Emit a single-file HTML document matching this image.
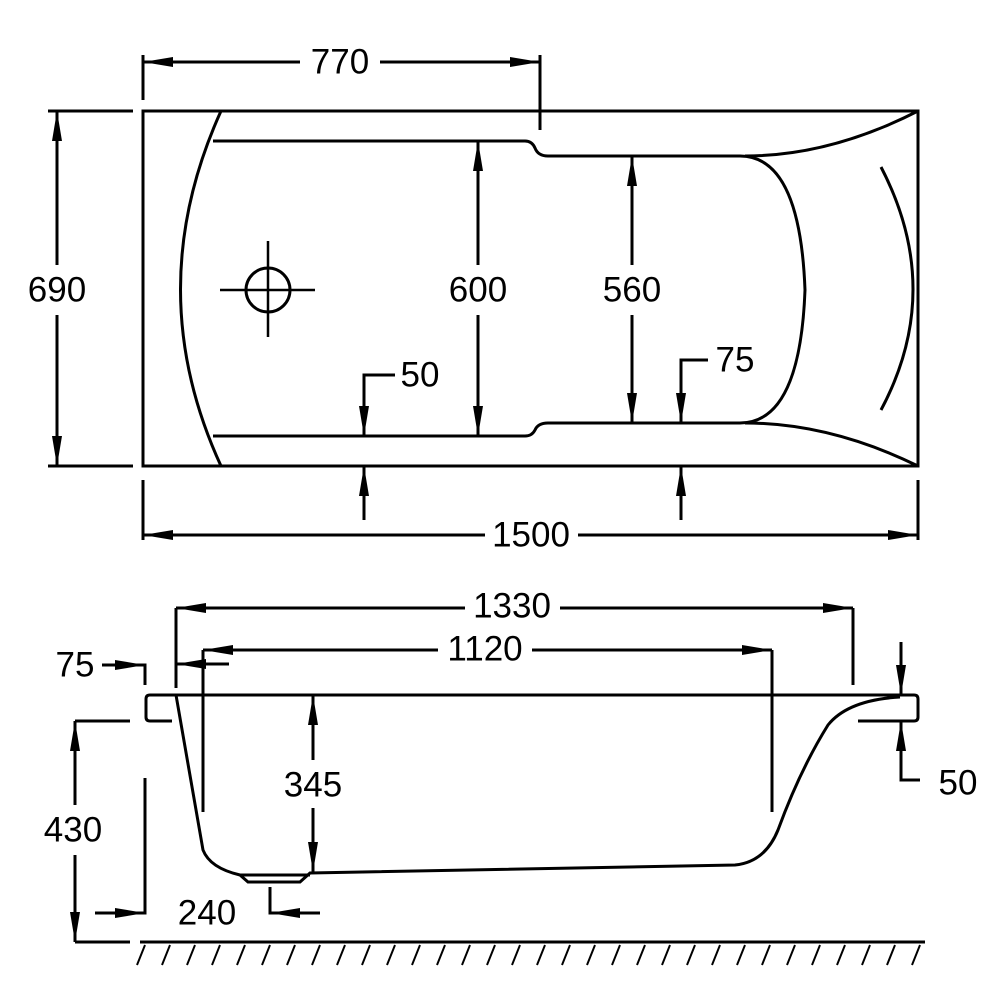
<!DOCTYPE html>
<html><head><style>body{margin:0;background:#fff}svg{display:block}text{font-family:"Liberation Sans",sans-serif;font-size:35px;fill:#000;text-anchor:middle;dominant-baseline:central}</style></head>
<body>
<svg width="1005" height="1005" viewBox="0 0 1005 1005" xmlns="http://www.w3.org/2000/svg">
<defs>
<marker id="a" markerWidth="30" markerHeight="12" refX="30" refY="6" orient="auto" markerUnits="userSpaceOnUse"><path d="M0,1 L30,6 L0,11 Z" fill="#000"/></marker>
</defs>
<g stroke="#000" stroke-width="3" fill="none">
<rect x="143" y="111" width="775" height="355"/>
<path d="M221,111 Q140,290 221,466"/>
<path d="M213,141 H525 Q532,141 535,148 Q538,156 548,156 H740 Q800,156 805,290 Q800,423 740,423 H548 Q538,423 535,430 Q532,436 525,436 H213"/>
<path d="M745,156 Q830,156 918,111"/>
<path d="M745,423 Q830,423 918,466"/>
<path d="M881,167 Q945,290 881,410"/>
<circle cx="268" cy="290" r="22"/>
<path d="M220,290 H315 M268,241 V337" stroke-width="2.5"/>
<path d="M143,55 V100 M540,55 V130"/>
<path d="M300,62 H143" marker-end="url(#a)"/>
<path d="M380,62 H540" marker-end="url(#a)"/>
<path d="M48,111 H133 M48,466 H133"/>
<path d="M57,265 V111" marker-end="url(#a)"/>
<path d="M57,315 V466" marker-end="url(#a)"/>
<path d="M478,265 V141" marker-end="url(#a)"/>
<path d="M478,315 V436" marker-end="url(#a)"/>
<path d="M632,265 V156" marker-end="url(#a)"/>
<path d="M632,315 V423" marker-end="url(#a)"/>
<path d="M395,375 H364 V436" marker-end="url(#a)"/>
<path d="M364,520 V466" marker-end="url(#a)"/>
<path d="M708,360 H681 V423" marker-end="url(#a)"/>
<path d="M681,520 V466" marker-end="url(#a)"/>
<path d="M143,480 V540 M918,480 V540"/>
<path d="M485,535 H143" marker-end="url(#a)"/>
<path d="M578,535 H918" marker-end="url(#a)"/>
<path d="M172,721 H150 Q146,721 146,717 V699 Q146,695 150,695 H914 Q918,695 918,699 V717 Q918,721 914,721 H858"/>
<path d="M176,695 L203,850 Q210,868 240,875 L248,882 H300 L310,873 L735,865 Q765,862 778,830 Q800,770 828,725 Q848,700 900,697"/>
<path d="M240,875 H310"/>
<path d="M176,608 V688 M853,608 V685"/>
<path d="M465,608 H176" marker-end="url(#a)"/>
<path d="M560,608 H853" marker-end="url(#a)"/>
<path d="M203,650 V812 M772,650 V812"/>
<path d="M438,650 H203" marker-end="url(#a)"/>
<path d="M532,650 H772" marker-end="url(#a)"/>
<path d="M102,665 H145 V685" />
<path d="M102,665 H145" marker-end="url(#a)"/>
<path d="M229,664 H176" marker-end="url(#a)"/>
<path d="M313,760 V695" marker-end="url(#a)"/>
<path d="M313,808 V872" marker-end="url(#a)"/>
<path d="M130,721 H75 M130,942 H75"/>
<path d="M75,805 V721" marker-end="url(#a)"/>
<path d="M75,855 V942" marker-end="url(#a)"/>
<path d="M145,778 V913 H95"/>
<path d="M95,913 H145" marker-end="url(#a)"/>
<path d="M270,887 V913 H320"/>
<path d="M320,913 H270" marker-end="url(#a)"/>
<path d="M901,642 V695" marker-end="url(#a)"/>
<path d="M920,780 H901 V721" marker-end="url(#a)"/>
<path d="M140,942 H925"/>
<path stroke-width="2" d="M145,945 l-8,20 M170,945 l-8,20 M195,945 l-8,20 M220,945 l-8,20 M245,945 l-8,20 M270,945 l-8,20 M295,945 l-8,20 M320,945 l-8,20 M345,945 l-8,20 M370,945 l-8,20 M395,945 l-8,20 M420,945 l-8,20 M445,945 l-8,20 M470,945 l-8,20 M495,945 l-8,20 M520,945 l-8,20 M545,945 l-8,20 M570,945 l-8,20 M595,945 l-8,20 M620,945 l-8,20 M645,945 l-8,20 M670,945 l-8,20 M695,945 l-8,20 M720,945 l-8,20 M745,945 l-8,20 M770,945 l-8,20 M795,945 l-8,20 M820,945 l-8,20 M845,945 l-8,20 M870,945 l-8,20 M895,945 l-8,20 M920,945 l-8,20"/>
</g>
<text x="340" y="62">770</text>
<text x="57" y="290">690</text>
<text x="478" y="290">600</text>
<text x="632" y="290">560</text>
<text x="420" y="375">50</text>
<text x="735" y="360">75</text>
<text x="531" y="535">1500</text>
<text x="512" y="606">1330</text>
<text x="485" y="649">1120</text>
<text x="75" y="665">75</text>
<text x="313" y="785">345</text>
<text x="73" y="830">430</text>
<text x="207" y="913">240</text>
<text x="958" y="783">50</text>
</svg>
</body></html>
